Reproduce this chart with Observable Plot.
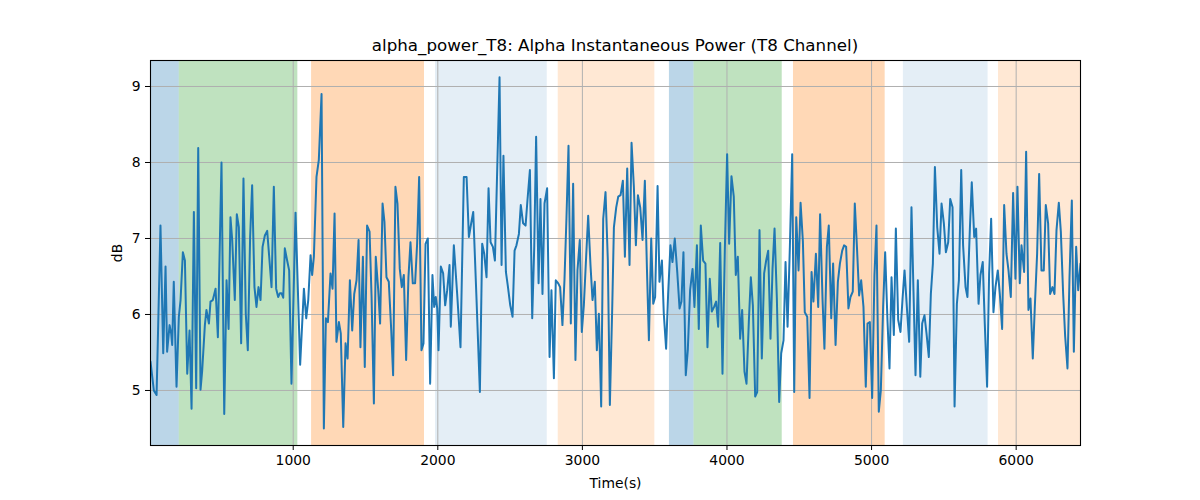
<!DOCTYPE html>
<html>
<head>
<meta charset="utf-8">
<script src="https://cdn.jsdelivr.net/npm/d3@7"></script>
<script src="https://cdn.jsdelivr.net/npm/@observablehq/plot@0.6"></script>
<style>
  html, body { margin: 0; padding: 0; background: white; }
  #wrap { position: relative; width: 1200px; height: 500px; font-family: "DejaVu Sans", sans-serif; }
  #title { position: absolute; z-index: 2; left: 150px; width: 930px; top: 36px; text-align: center; font-size: 16.7px; line-height: 18px; color: black; }
  #chart { position: absolute; z-index: 1; left: 0; top: 50px; }
</style>
</head>
<body>
<div id="wrap">
  <div id="title">alpha_power_T8: Alpha Instantaneous Power (T8 Channel)</div>
  <div id="chart"></div>
</div>
<script>
const times = [13,36,55,82,101,117,128,145,156,163,174,193,209,221,237,251,267,283,297,313,329,343,359,370,389,400,417,428,444,463,479,504,523,539,553,566,578,596,610,624,640,656,672,686,702,716,732,746,760,774,788,804,820,834,850,866,882,896,908,919,931,942,958,972,988,1016,1048,1074,1090,1104,1120,1131,1143,1161,1177,1196,1212,1226,1240,1258,1272,1286,1299,1316,1329,1346,1362,1376,1392,1408,1422,1438,1452,1465,1482,1495,1511,1528,1542,1558,1571,1588,1601,1618,1631,1645,1661,1678,1691,1707,1721,1737,1751,1765,1781,1797,1811,1827,1843,1857,1871,1887,1901,1915,1931,1947,1963,1975,1986,1996,2005,2021,2037,2051,2065,2081,2090,2111,2134,2157,2180,2199,2215,2231,2245,2268,2291,2307,2321,2337,2351,2365,2381,2395,2427,2441,2454,2471,2484,2501,2517,2531,2544,2561,2574,2590,2607,2620,2637,2653,2667,2680,2697,2710,2724,2738,2756,2773,2786,2803,2816,2833,2846,2862,2876,2890,2904,2920,2936,2952,2966,2982,2996,3010,3026,3040,3056,3070,3086,3100,3114,3130,3144,3160,3176,3190,3206,3218,3234,3248,3264,3280,3294,3310,3326,3340,3356,3370,3384,3400,3416,3432,3446,3460,3476,3490,3503,3520,3533,3550,3563,3579,3593,3609,3623,3639,3656,3672,3685,3699,3715,3729,3745,3762,3775,3792,3805,3819,3835,3851,3865,3881,3895,3911,3925,3939,3953,3969,3985,4001,4015,4031,4047,4061,4075,4091,4105,4121,4135,4151,4165,4179,4195,4209,4225,4241,4257,4271,4285,4301,4315,4329,4345,4361,4375,4391,4405,4419,4435,4451,4465,4479,4495,4509,4525,4538,4555,4571,4585,4598,4615,4631,4644,4661,4674,4691,4704,4721,4734,4751,4767,4781,4797,4810,4824,4840,4854,4870,4884,4900,4914,4928,4944,4960,4972,4988,5004,5020,5034,5050,5064,5080,5094,5110,5124,5138,5154,5168,5184,5200,5214,5228,5244,5260,5276,5290,5304,5320,5337,5350,5366,5380,5396,5410,5424,5438,5454,5470,5484,5500,5514,5530,5544,5560,5574,5590,5604,5620,5633,5650,5663,5680,5693,5710,5723,5740,5753,5769,5783,5799,5813,5827,5843,5857,5873,5887,5903,5917,5933,5947,5963,5979,5995,6009,6025,6037,6055,6069,6085,6099,6115,6129,6145,6159,6175,6191,6205,6221,6235,6251,6265,6279,6295,6309,6325,6339,6355,6369,6385,6399,6415,6429,6445];
const values = [5.38,5.00,4.94,7.17,5.49,6.63,5.51,5.86,5.75,5.60,6.43,5.05,5.97,6.19,6.82,6.71,5.22,5.79,4.76,7.35,5.03,8.19,5.01,5.25,5.86,6.06,5.88,6.17,6.19,6.34,5.70,8.00,4.69,6.45,5.81,7.28,6.98,6.19,7.32,7.15,5.62,7.79,6.01,5.53,7.02,7.70,6.36,6.10,6.36,6.19,6.89,7.04,7.10,6.76,6.36,7.68,6.34,6.23,6.28,6.28,6.22,6.87,6.71,6.58,5.09,7.34,5.34,6.34,5.95,6.19,6.78,6.52,6.76,7.81,8.03,8.90,4.50,5.95,5.90,6.54,6.34,7.33,5.64,5.90,5.75,4.52,5.62,5.42,6.45,5.79,6.27,6.45,6.98,5.57,6.76,5.31,7.17,7.09,6.23,4.83,6.76,6.32,5.88,7.46,7.22,6.49,6.43,5.79,5.20,7.68,7.46,6.60,6.36,6.52,5.40,6.49,6.95,6.41,6.41,6.93,7.81,5.53,5.62,6.93,7.00,5.09,6.52,6.10,6.23,6.08,5.53,6.63,6.54,6.12,6.32,6.65,5.84,6.91,6.27,5.57,7.81,7.81,7.02,7.20,7.35,6.19,4.98,6.93,6.80,6.49,7.66,6.95,6.89,6.71,9.12,6.65,8.09,6.56,6.38,6.12,5.97,6.84,6.91,7.06,7.44,7.20,7.17,7.50,7.90,5.95,6.89,8.34,6.41,7.52,6.27,7.46,7.66,5.44,6.32,5.16,6.45,6.41,6.36,5.86,6.45,7.28,8.22,5.88,7.72,5.40,6.58,6.98,5.77,6.12,6.76,7.30,6.65,6.19,6.43,5.53,6.01,4.79,7.26,7.61,6.71,4.81,6.06,7.15,7.41,7.55,7.57,7.76,6.76,7.92,6.65,8.26,7.68,6.91,7.57,7.41,6.98,7.76,6.63,5.66,7.00,6.14,6.23,7.69,6.43,6.71,6.01,5.55,6.27,6.91,6.69,7.00,6.56,6.08,6.17,6.82,5.20,5.53,6.32,6.60,6.10,6.91,5.81,7.17,6.71,6.67,5.57,6.47,6.04,6.10,6.17,5.84,6.94,5.22,6.84,8.11,6.93,7.82,7.55,6.52,6.76,5.68,6.06,5.25,5.09,5.90,6.49,6.12,4.92,4.98,7.11,5.42,6.54,6.71,6.84,5.68,6.60,7.13,6.21,4.85,5.49,5.66,6.69,5.84,6.89,8.11,4.98,7.28,6.58,7.47,6.96,6.03,5.97,4.90,6.56,6.17,6.80,6.10,7.32,6.19,5.55,6.89,7.17,5.95,6.67,5.60,6.43,6.67,6.84,6.91,6.89,6.08,6.23,6.30,7.46,6.84,6.25,6.45,6.10,5.05,5.88,5.90,4.90,6.52,7.17,4.72,5.00,6.10,6.82,5.92,5.29,6.49,5.73,7.13,5.93,5.77,6.20,6.58,6.10,5.64,7.41,6.30,5.20,6.45,5.18,5.88,5.99,5.75,5.44,6.27,6.67,7.94,7.15,6.80,7.46,7.20,6.82,6.95,7.52,7.41,4.79,6.14,6.45,7.90,6.91,6.36,6.23,7.13,7.74,7.02,7.13,6.14,6.52,6.69,5.88,5.05,6.54,7.26,6.03,6.36,6.58,6.27,5.81,7.44,6.80,6.58,6.23,7.60,6.47,7.68,6.41,6.91,6.56,8.14,6.06,6.21,5.42,6.10,6.80,7.85,6.58,6.58,7.44,7.20,6.27,6.36,6.27,7.11,7.47,7.09,6.27,5.71,5.29,6.49,7.50,5.51,6.89,6.32,6.67];

const spanStart   = [13, 212, 1127, 1984, 2833, 3602, 3772, 4460, 5220, 5878];
const spanEnd     = [212, 1032, 1908, 2757, 3501, 3772, 4382, 5094, 5806, 6445];
const spanColor   = ["#1f77b4","#2ca02c","#ff7f0e","#1f77b4","#ff7f0e","#1f77b4","#2ca02c","#ff7f0e","#1f77b4","#ff7f0e"];
const spanOpacity = [0.3, 0.3, 0.3, 0.12, 0.18, 0.3, 0.3, 0.3, 0.12, 0.18];

const xTicks = [1000, 2000, 3000, 4000, 5000, 6000];
const yTicks = [5, 6, 7, 8, 9];

const series = times.map((t, i) => ({t, v: values[i]}));
const spans = spanStart.map((s, i) => ({start: s, end: spanEnd[i], color: spanColor[i], opacity: spanOpacity[i]}));

const chart = Plot.plot({
  width: 1200,
  height: 450,
  marginTop: 10,
  marginBottom: 55,
  marginLeft: 150,
  marginRight: 120,
  style: {fontFamily: "DejaVu Sans, sans-serif", fontSize: "13.9px", color: "black", background: "transparent"},
  x: {domain: [13, 6445]},
  y: {domain: [4.276, 9.342]},
  marks: [
    ...spans.map(s => Plot.rect([s], {x1: "start", x2: "end", fill: s.color, fillOpacity: s.opacity})),
    Plot.gridX(xTicks, {stroke: "#b0b0b0", strokeOpacity: 1, strokeWidth: 1}),
    Plot.gridY(yTicks, {stroke: "#b0b0b0", strokeOpacity: 1, strokeWidth: 1}),
    Plot.line(series, {x: "t", y: "v", stroke: "#1f77b4", strokeWidth: 2, clip: true}),
    Plot.frame({stroke: "black", strokeWidth: 1.1}),
    Plot.axisX({ticks: xTicks, tickSize: 5, tickPadding: 5, tickFormat: d => String(d), label: "Time(s)", labelAnchor: "center", labelArrow: "none", labelOffset: 42}),
    Plot.axisY({ticks: yTicks, tickSize: 5, tickPadding: 5, tickFormat: d => String(d), label: "dB", labelAnchor: "center", labelArrow: "none", labelOffset: 38})
  ]
});
document.getElementById("chart").appendChild(chart);
</script>
</body>
</html>
